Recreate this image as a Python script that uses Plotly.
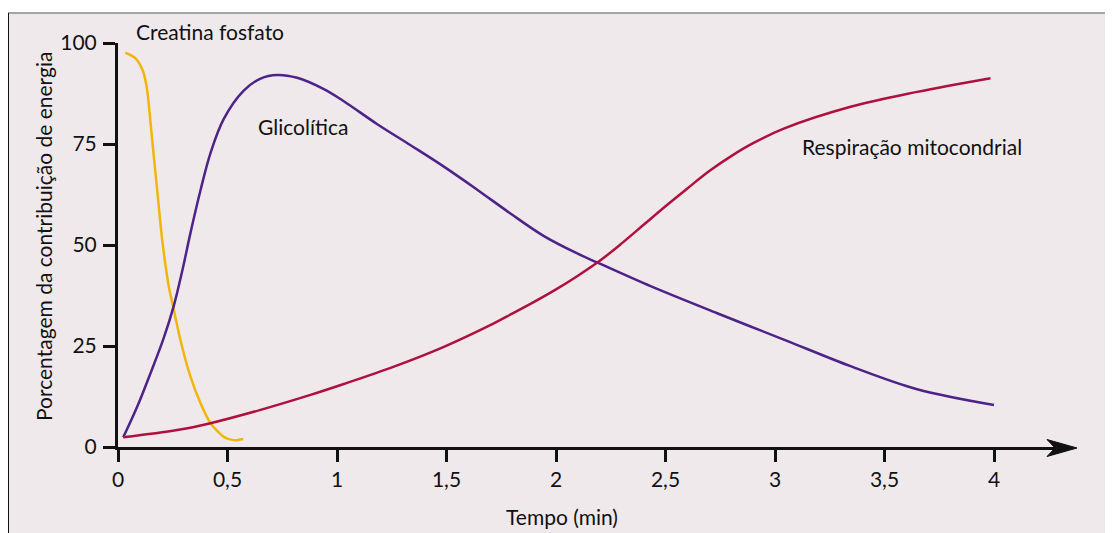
import plotly.graph_objects as go

# --- data ---
tempo_creatina = [0.034, 0.08, 0.115, 0.133, 0.156, 0.179, 0.202, 0.232, 0.252,
                  0.285, 0.331, 0.377, 0.422, 0.483, 0.529, 0.572]
creatina = [97.6, 96.2, 92.9, 88.4, 76.0, 63.6, 51.2, 39.7, 34.7,
            26.5, 17.4, 10.8, 5.9, 2.5, 1.7, 2.0]

tempo_glico = [0.024, 0.088, 0.148, 0.209, 0.255, 0.293, 0.331, 0.377, 0.422, 0.483,
               0.574, 0.651, 0.727, 0.818, 0.94, 1.031, 1.184, 1.336, 1.488, 1.64,
               1.792, 1.945, 2.097, 2.195, 2.432, 2.736, 3.04, 3.345, 3.649, 4.0]
glicolitica = [2.4, 10.0, 18.2, 27.0, 35.0, 43.5, 53.0, 63.6, 72.7, 81.2,
               88.2, 91.2, 92.1, 91.4, 88.6, 85.6, 79.9, 74.7, 69.4, 63.7,
               57.8, 52.2, 47.9, 45.5, 39.8, 33.1, 26.6, 20.0, 14.3, 10.4]

tempo_resp = [0.024, 0.27, 0.422, 0.651, 0.879, 1.031, 1.26, 1.488, 1.716, 1.8,
              1.9, 2.0, 2.1, 2.2, 2.3, 2.4, 2.5, 2.6, 2.7, 2.8,
              2.9, 3.04, 3.345, 3.649, 3.984]
respiracao = [2.4, 4.2, 5.9, 9.2, 12.9, 15.6, 19.9, 24.8, 30.6, 33.0,
              35.9, 39.0, 42.4, 46.1, 50.4, 55.0, 59.6, 64.0, 68.3, 72.0,
              75.2, 78.8, 84.2, 87.9, 91.3]

x_ticks = [0, 0.5, 1, 1.5, 2, 2.5, 3, 3.5, 4]
x_ticktext = ["0", "0,5", "1", "1,5", "2", "2,5", "3", "3,5", "4"]
y_ticks = [0, 25, 50, 75, 100]

# layout geometry; the page body adds an 8px offset
OFF = 8
W, H = 1113 - OFF, 533 - OFF
ML, MR, MT, MB = 118 - OFF, 58, 43 - OFF, 86
PW, PH = W - ML - MR, H - MT - MB


def px(xs):
    # screen x pixel -> paper
    return (xs - OFF - ML) / PW


def py(ys):
    # screen y pixel -> paper
    return (H - MB - (ys - OFF)) / PH


FONT = "Lato, 'Open Sans', sans-serif"
BG = "#efe9ec"
FS = 21

fig = go.Figure()
fig.add_trace(go.Scatter(x=tempo_creatina, y=creatina, mode="lines",
                         line=dict(color="#f2b50a", width=2.5, shape="spline", smoothing=0.7)))
fig.add_trace(go.Scatter(x=tempo_glico, y=glicolitica, mode="lines",
                         line=dict(color="#4e2389", width=2.5, shape="spline", smoothing=1)))
fig.add_trace(go.Scatter(x=tempo_resp, y=respiracao, mode="lines",
                         line=dict(color="#b0103e", width=2.5, shape="spline", smoothing=1)))

shapes = [
    # panel background + frame
    dict(type="rect", xref="paper", yref="paper", x0=px(7), x1=px(1120), y0=py(13), y1=py(540),
         fillcolor=BG, line=dict(width=0), layer="below"),
    dict(type="line", xref="paper", yref="paper", x0=px(7), x1=px(1120), y0=py(13), y1=py(13),
         line=dict(color="#8a8a8a", width=1.5), layer="below"),
    dict(type="line", xref="paper", yref="paper", x0=px(8), x1=px(8), y0=py(13), y1=py(540),
         line=dict(color="#111111", width=2), layer="below"),
    # arrow head on the time axis
    dict(type="path", xref="paper", yref="paper",
         path="M {},{} L {},{} L {},{} L {},{} Z".format(
             px(1077), py(448), px(1047), py(439.5), px(1055), py(448), px(1047), py(456.5)),
         fillcolor="#111111", line=dict(color="#111111", width=1)),
]

annotations = [
    dict(text="Creatina fosfato", x=px(209.5), y=py(32), xref="paper", yref="paper",
         xanchor="center", yanchor="middle", showarrow=False, font=dict(size=FS)),
    dict(text="Glicolítica", x=0.843, y=79.3, xref="x", yref="y", showarrow=False,
         font=dict(size=FS)),
    dict(text="Respiração mitocondrial", x=3.624, y=74.3, xref="x", yref="y", showarrow=False,
         font=dict(size=FS)),
    dict(text="Porcentagem da contribuição de energia", x=px(43), y=py(237), xref="paper",
         yref="paper", xanchor="center", yanchor="middle", textangle=-90, showarrow=False,
         font=dict(size=FS)),
    dict(text="Tempo (min)", x=px(562), y=py(516), xref="paper", yref="paper",
         xanchor="center", yanchor="middle", showarrow=False, font=dict(size=FS)),
]

fig.update_layout(
    width=W, height=H,
    margin=dict(l=ML, r=MR, t=MT, b=MB),
    paper_bgcolor="white",
    plot_bgcolor="rgba(0,0,0,0)",
    showlegend=False,
    font=dict(family=FONT, size=FS, color="#111111"),
    shapes=shapes,
    annotations=annotations,
    xaxis=dict(range=[0, PW / 219.0], tickvals=x_ticks, ticktext=x_ticktext,
               showgrid=False, zeroline=False, showline=True, linecolor="#111111",
               linewidth=3, ticks="outside", ticklen=12, tickwidth=2.5,
               tickcolor="#111111", tickfont=dict(size=FS)),
    yaxis=dict(range=[0, 100], tickvals=y_ticks, showgrid=False, zeroline=False,
               showline=True, linecolor="#111111", linewidth=3, ticks="outside",
               ticklen=12, tickwidth=2.5, tickcolor="#111111", tickfont=dict(size=FS),
               ticklabelstandoff=2),
)

fig.write_html("out.html")
